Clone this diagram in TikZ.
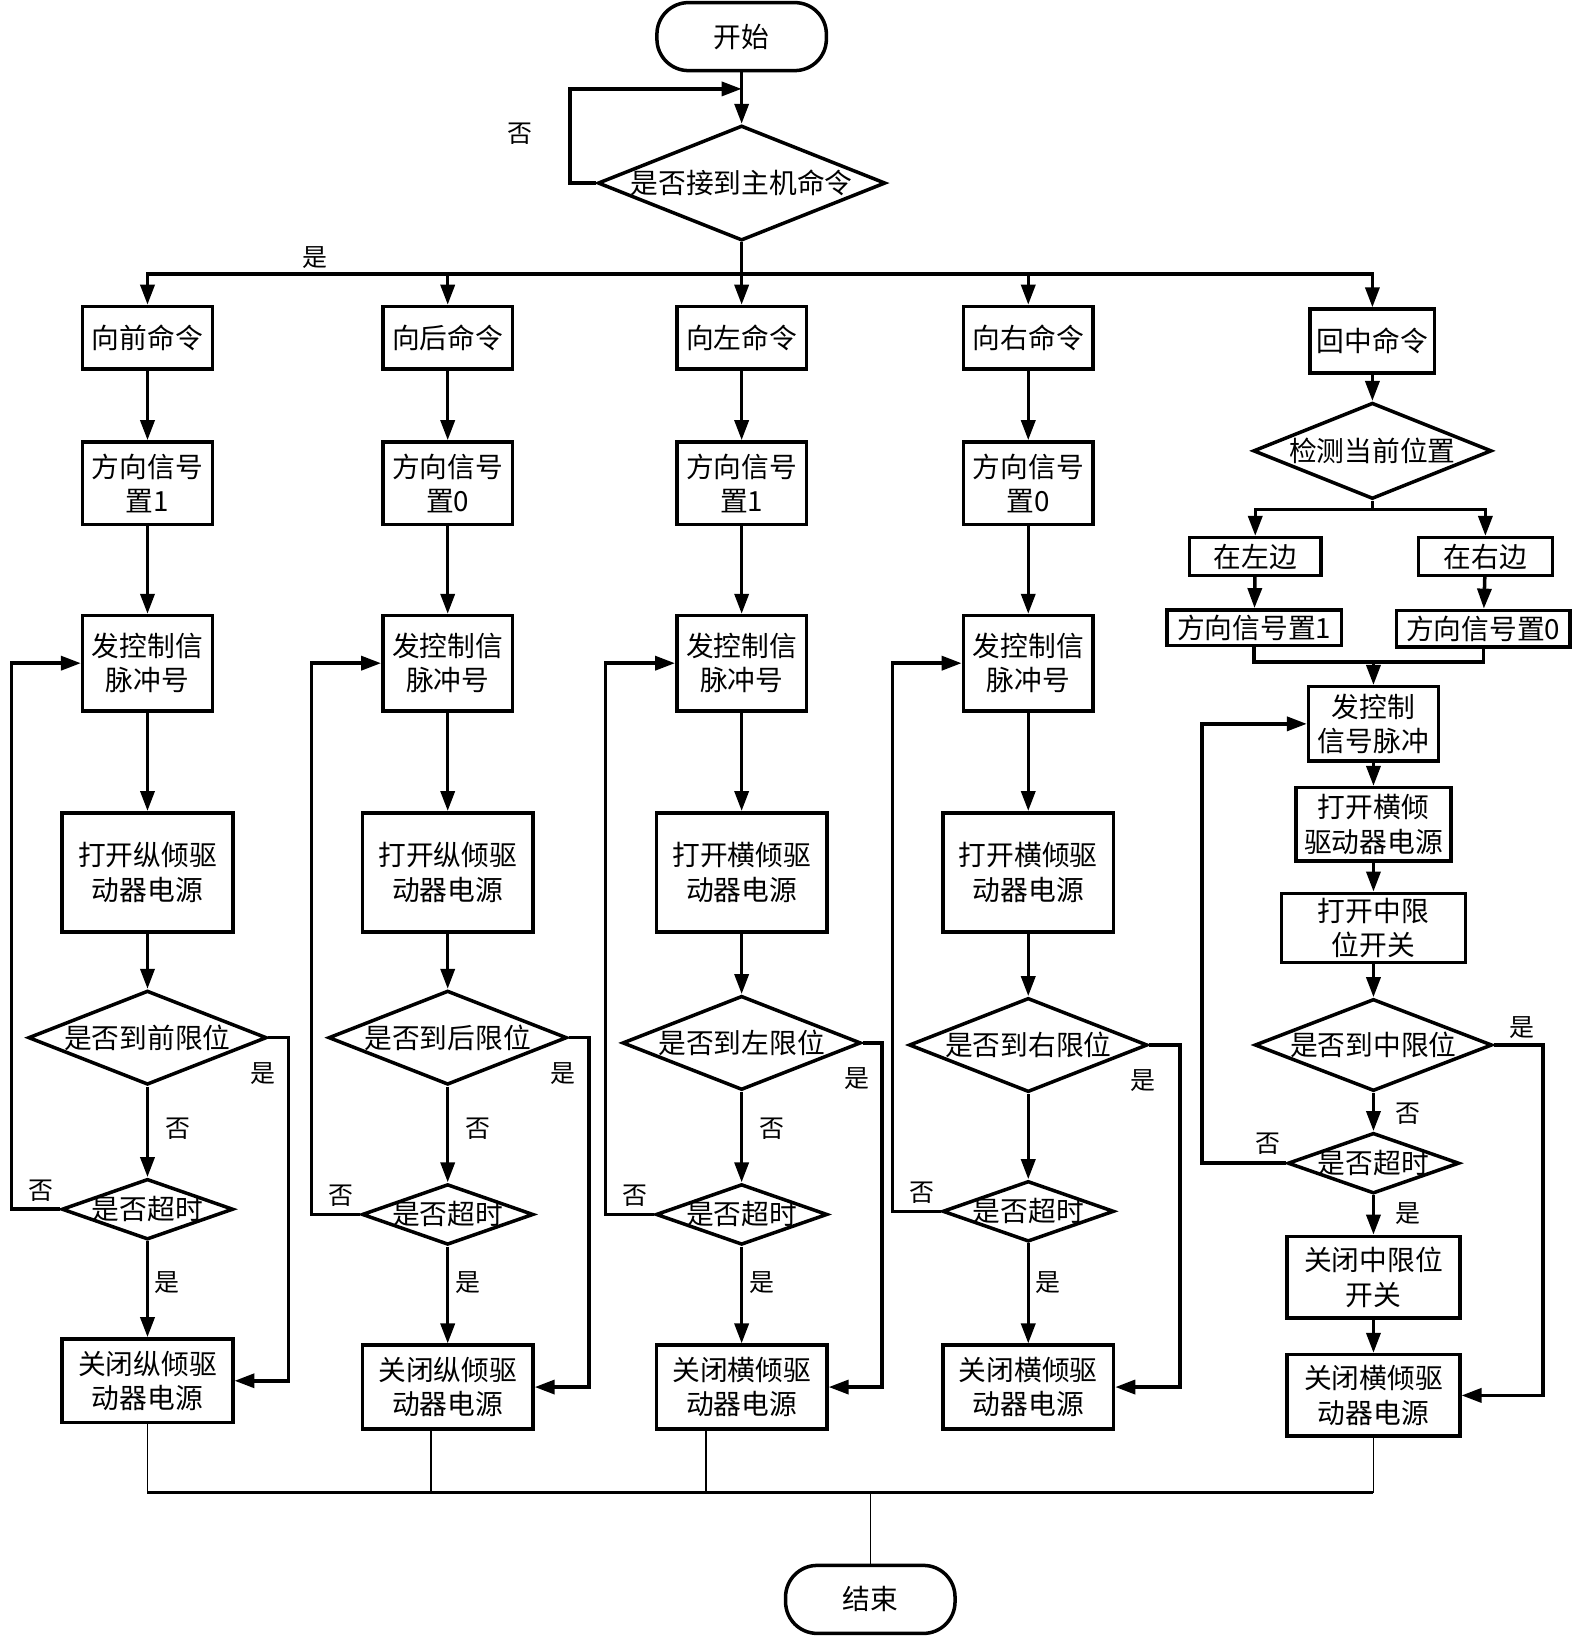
\documentclass[tikz,border=0pt]{standalone}
\usepackage{fontspec}
\setmainfont{Noto Sans CJK SC}
\usetikzlibrary{shapes.geometric,arrows.meta}
\newcommand{\pxu}{0.01046cm}
\begin{document}
\begin{tikzpicture}[x=0.01046cm,y=-0.01046cm,line width=1pt,
  every node/.style={font=\fontsize{7.9pt}{9.8pt}\selectfont},
  sz/.style 2 args={minimum width=#1*\pxu,minimum height=#2*\pxu},
  box/.style={draw,rectangle,align=center,inner sep=0pt},
  dec/.style={draw,diamond,aspect=2.5,inner sep=-1.5pt},
  term/.style={draw,rounded corners=9pt,inner sep=0pt},
  arr/.style={-{Triangle[length=0.2cm,width=0.14cm]}},
  lab/.style={font=\fontsize{7.1pt}{8pt}\selectfont,inner sep=0pt}]
\useasboundingbox (0,0) rectangle (1505,1564);
% start and host command
\node[term,sz={162}{65}] (start) at (709,35) {开始};
\node[dec,sz={275}{110}] (recv) at (709,175) {是否接到主机命令};
\coordinate (loopin) at (709,85);
\coordinate (split) at (709,262);
\draw[arr] (start) -- (recv);
\draw[arr] (recv.west) -- (545,175) |- (loopin);
\draw (recv.south) -- (split);
\node[lab] (noTop) at (497,128) {否};
\node[lab] (yesTop) at (301,246) {是};
% four move columns
\foreach \c/\x/\dirn/\sig/\tilt/\limw/\ly/\ty/\cy/\rx in
  {A/141/前/1/纵/前/992/1156/1320/276,
   B/428/后/0/纵/后/992/1161/1326/563,
   C/709/左/1/横/左/997/1161/1326/843,
   D/983/右/0/横/右/999/1158/1326/1128}{
  \node[box,sz={124}{60}] (cmd\c) at (\x,323) {向\dirn 命令};
  \node[box,sz={124}{79}] (dir\c) at (\x,462) {方向信号\\置\sig};
  \node[box,sz={124}{91}] (pulse\c) at (\x,634) {发控制信\\脉冲号};
  \node[box,sz={163}{114}] (open\c) at (\x,834) {打开\tilt 倾驱\\动器电源};
  \node[dec,sz={228}{90}] (lim\c) at (\x,\ly) {是否到\limw 限位};
  \node[dec,sz={164}{58}] (time\c) at (\x,\ty) {是否超时};
  \node[box,sz={163}{80}] (close\c) at (\x,\cy) {关闭\tilt 倾驱\\动器电源};
  \draw[arr] (split) -| (cmd\c.north);
  \draw[arr] (cmd\c) -- (dir\c);
  \draw[arr] (dir\c) -- (pulse\c);
  \draw[arr] (pulse\c) -- (open\c);
  \draw[arr] (open\c) -- (lim\c);
  \draw[arr] (lim\c) -- (time\c);
  \draw[arr] (time\c) -- (close\c);
  \draw[arr] (lim\c.east) -- (\rx,\ly) |- (close\c.east);
  \draw[arr] (time\c.west) -- (\x-130,\ty) |- (pulse\c.west);
  \node[lab] (yesR\c) at (\x+110,\ly+34) {是};
  \node[lab] (noL\c) at (\x-102,\ty-18) {否};
  \node[lab] (yesD\c) at (\x+19,1226) {是};
}
\foreach \c/\x in {A/141,B/428,C/709}
  \node[lab] (noD\c) at (\x+29,1079) {否};
% return to centre column
\node[box,sz={119}{61}] (cmdE) at (1312,326) {回中命令};
\node[dec,sz={228}{92}] (detect) at (1312,431) {检测当前位置};
\coordinate (fork) at (1312,487);
\node[box,sz={126}{36}] (leftE) at (1200,532) {在左边};
\node[box,sz={128}{36}] (rightE) at (1420,532) {在右边};
\node[box,sz={167}{34}] (dirL) at (1199,600) {方向信号置1};
\node[box,sz={166}{35}] (dirR) at (1418,601) {方向信号置0};
\coordinate (merge) at (1313,633);
\node[box,sz={124}{71}] (pulseE) at (1313,692) {发控制\\信号脉冲};
\node[box,sz={148}{70}] (openE) at (1313,788) {打开横倾\\驱动器电源};
\node[box,sz={176}{66}] (midE) at (1313,887) {打开中限\\位开关};
\node[dec,sz={227}{88}] (limE) at (1313,999) {是否到中限位};
\node[dec,sz={164}{58}] (timeE) at (1313,1112) {是否超时};
\node[box,sz={165}{78}] (offE) at (1313,1221) {关闭中限位\\开关};
\node[box,sz={165}{78}] (closeE) at (1313,1334) {关闭横倾驱\\动器电源};
\draw[arr] (split) -| (cmdE.north);
\draw[arr] (cmdE) -- (detect);
\draw (detect.south) -- (fork);
\draw[arr] (fork) -| (leftE.north);
\draw[arr] (fork) -| (rightE.north);
\draw[arr] (leftE) -- (dirL);
\draw[arr] (rightE) -- (dirR);
\draw (dirL.south) |- (merge);
\draw (dirR.south) |- (merge);
\draw[arr] (merge) -- (pulseE);
\draw[arr] (pulseE) -- (openE);
\draw[arr] (openE) -- (midE);
\draw[arr] (midE) -- (limE);
\draw[arr] (limE) -- (timeE);
\draw[arr] (timeE) -- (offE);
\draw[arr] (offE) -- (closeE);
\draw[arr] (limE.east) -- (1475,999) |- (closeE.east);
\draw[arr] (timeE.west) -- (1149,1112) |- (pulseE.west);
\node[lab] (yesRE) at (1455,982) {是};
\node[lab] (noDE) at (1346,1065) {否};
\node[lab] (noLE) at (1212,1093) {否};
\node[lab] (yesDE) at (1346,1160) {是};
% end
\node[term,sz={162}{65}] (stop) at (832,1529) {结束};
\coordinate (bus) at (832,1427);
\coordinate (outB) at ([xshift=-16*\pxu]closeB.south);
\coordinate (outC) at ([xshift=-34*\pxu]closeC.south);
\draw[line width=0.45pt] (closeA.south) -- (closeA |- bus);
\draw[line width=0.45pt] (outB) -- (outB |- bus);
\draw[line width=0.45pt] (outC) -- (outC |- bus);
\draw[line width=0.45pt] (closeE.south) -- (closeE |- bus);
\draw[line width=0.9pt] (closeA |- bus) -- (closeE |- bus);
\draw[line width=0.45pt] (bus) -- (stop);
\end{tikzpicture}
\end{document}
